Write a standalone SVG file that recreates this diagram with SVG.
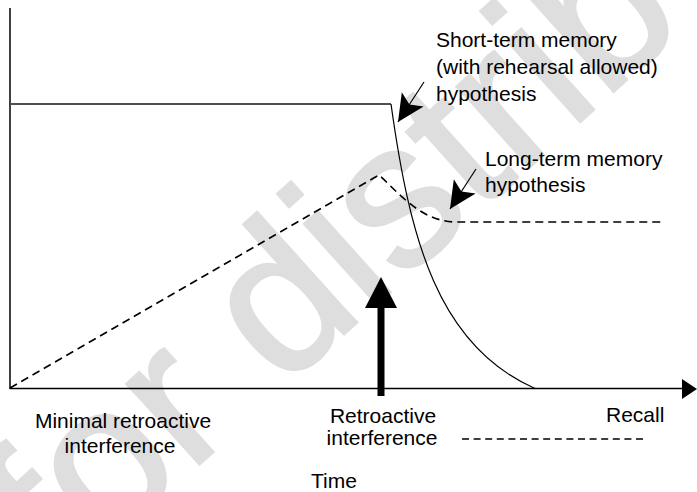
<svg xmlns="http://www.w3.org/2000/svg" width="697" height="492" viewBox="0 0 697 492">
  <style>
    .lbl { font-family: "Liberation Sans", Arial, Helvetica, sans-serif; font-size: 21px; fill: #000; }
    .wm { font-family: "Liberation Sans", Arial, sans-serif; font-size: 205px; fill: #dedede; stroke: #dedede; stroke-width: 3; }
    .axis { stroke: #000; stroke-width: 1.5; fill: none; }
    .stm { stroke: #000; stroke-width: 1.2; fill: none; }
    .ltm { stroke: #000; stroke-width: 1.6; fill: none; stroke-dasharray: 8 5; }
    .ptr { stroke: #000; stroke-width: 1.2; fill: none; marker-end: url(#ah); }
  </style>
  <defs>
    <marker id="ah" viewBox="-29 -15 31 30" refX="0" refY="0" markerWidth="31" markerHeight="30" orient="auto" markerUnits="userSpaceOnUse">
      <path d="M0,0 L-27,-13 L-21,0 L-27,13 Z" fill="#000"/>
    </marker>
  </defs>
  <rect x="0" y="0" width="697" height="492" fill="#fff"/>

  <g id="watermark">
    <text class="wm" transform="translate(62,588) rotate(-42)">for distrib</text>
  </g>

  <g id="axes">
    <line class="axis" x1="10" y1="8" x2="10" y2="389"/>
    <line class="axis" x1="10" y1="388.5" x2="684" y2="388.5"/>
    <polygon points="682,379 697,389 682,399" fill="#000"/>
  </g>

  <g id="connectors">
    <line id="stm-plateau" x1="10" y1="104" x2="391" y2="104" stroke="#505050" stroke-width="2"/>
    <path id="stm-curve" class="stm" d="M391,104 C410,240 438,346 535,388.5"/>
    <path id="ltm-curve" class="ltm" d="M10,388 L379,175 C398,192 420,221 455,222 L665,222"/>
    <path id="interference-arrow" d="M377.5,396 V308 H365 L381,277 L397,308 H384.5 V396 Z" fill="#000"/>
    <line class="ptr" x1="424" y1="82" x2="398" y2="122"/>
    <line class="ptr" x1="476" y1="169" x2="450" y2="209"/>
    <line id="legend-dash" x1="462" y1="439" x2="644" y2="439" stroke="#000" stroke-width="1.5" stroke-dasharray="7 4.6"/>
  </g>

  <g id="stm-label">
    <text class="lbl" x="436" y="47">Short-term memory</text>
    <text class="lbl" x="436" y="74">(with rehearsal allowed)</text>
    <text class="lbl" x="436" y="101">hypothesis</text>
  </g>
  <g id="ltm-label">
    <text class="lbl" x="485" y="166">Long-term memory</text>
    <text class="lbl" x="485" y="192">hypothesis</text>
  </g>
  <g id="minimal-label">
    <text class="lbl" x="123" y="428" text-anchor="middle">Minimal retroactive</text>
    <text class="lbl" x="120" y="453" text-anchor="middle">interference</text>
  </g>
  <g id="retro-label">
    <text class="lbl" x="383" y="423" text-anchor="middle">Retroactive</text>
    <text class="lbl" x="382" y="445" text-anchor="middle">interference</text>
  </g>
  <g id="time-label">
    <text class="lbl" x="311" y="488">Time</text>
  </g>
  <g id="recall-label">
    <text class="lbl" x="606" y="422">Recall</text>
  </g>
</svg>
